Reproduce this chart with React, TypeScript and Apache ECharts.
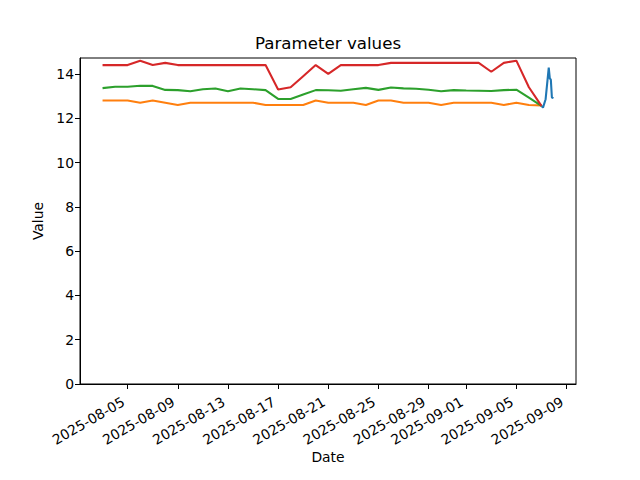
import React, { useEffect, useRef } from "react";
import * as echarts from "echarts";

const DAY = 86400000;
const HOUR = 3600000;
const startDay = Date.UTC(2025, 7, 3);
const dayCount = 36; // 2025-08-03 .. 2025-09-07
const dailyDates: number[] = Array.from({ length: dayCount }, (_, i) => startDay + i * DAY);

const redValues = [
  14.4, 14.4, 14.4, 14.6, 14.4, 14.5, 14.4, 14.4, 14.4, 14.4, 14.4, 14.4, 14.4, 14.4,
  13.3, 13.4, 13.9, 14.4, 14.0, 14.4, 14.4, 14.4, 14.4, 14.5, 14.5, 14.5, 14.5, 14.5,
  14.5, 14.5, 14.5, 14.1, 14.5, 14.6, 13.4, 12.56,
];
const greenValues = [
  13.36, 13.42, 13.42, 13.47, 13.46, 13.28, 13.27, 13.22, 13.31, 13.34, 13.22, 13.34,
  13.31, 13.27, 12.87, 12.87, 13.07, 13.27, 13.26, 13.24, 13.31, 13.37, 13.28, 13.39,
  13.35, 13.33, 13.29, 13.22, 13.27, 13.25, 13.24, 13.23, 13.27, 13.29, 12.93, 12.56,
];
const orangeValues = [
  12.8, 12.8, 12.8, 12.7, 12.8, 12.7, 12.6, 12.7, 12.7, 12.7, 12.7, 12.7, 12.7, 12.6,
  12.6, 12.6, 12.6, 12.8, 12.7, 12.7, 12.7, 12.6, 12.8, 12.8, 12.7, 12.7, 12.7, 12.6,
  12.7, 12.7, 12.7, 12.7, 12.6, 12.7, 12.6, 12.58,
];

const blueDay = Date.UTC(2025, 8, 7);
const blueHours = [0, 3, 8, 14, 16, 18, 20, 23];
const blueValues = [12.56, 12.48, 12.86, 14.29, 13.8, 13.74, 12.94, 12.91];

const xTickLabels = [
  "2025-08-05", "2025-08-09", "2025-08-13", "2025-08-17", "2025-08-21",
  "2025-08-25", "2025-08-29", "2025-09-01", "2025-09-05", "2025-09-09",
];
const yTicks = [0, 2, 4, 6, 8, 10, 12, 14];

const colors = { blue: "#1f77b4", orange: "#ff7f0e", green: "#2ca02c", red: "#d62728" };

function parseDate(s: string): number {
  const [y, m, d] = s.split("-").map(Number);
  return Date.UTC(y, m - 1, d);
}
function fmtDate(v: number): string {
  const d = new Date(v);
  const p = (n: number) => String(n).padStart(2, "0");
  return `${d.getUTCFullYear()}-${p(d.getUTCMonth() + 1)}-${p(d.getUTCDate())}`;
}

export default function App() {
  const ref = useRef<HTMLDivElement>(null);
  useEffect(() => {
    if (!ref.current) return;
    const chart = echarts.init(ref.current, null, { renderer: "svg" });
    const dataStart = dailyDates[0];
    const dataEnd = blueDay + blueHours[blueHours.length - 1] * HOUR;
    const pad = (dataEnd - dataStart) * 0.05;
    const xTicks = xTickLabels.map(parseDate);
    const font = "DejaVu Sans";
    const lineW = 2.08;
    const mk = (vals: number[]) => vals.map((v, i) => [dailyDates[i], v]);
    chart.setOption({
      animation: false,
      backgroundColor: "#fff",
      grid: {
        left: 80, right: 64, top: 58, bottom: 96,
        show: true, borderColor: "#000", borderWidth: 1, backgroundColor: "transparent",
      },
      xAxis: {
        type: "value",
        min: dataStart - pad,
        max: dataEnd + pad,
        splitLine: { show: false },
        axisLine: { onZero: false, lineStyle: { color: "#000", width: 1 } },
        axisTick: { customValues: xTicks, length: 5, lineStyle: { color: "#000", width: 1 } },
        axisLabel: {
          customValues: xTicks,
          rotate: 30,
          formatter: (v: number) => fmtDate(v),
          fontSize: 13.9,
          fontFamily: font,
          color: "#000",
          margin: 14,
          padding: [0, 5, 0, 0],
        },
      },
      yAxis: {
        type: "value",
        min: 0,
        max: 14.72,
        splitLine: { show: false },
        axisLine: { show: true, onZero: false, lineStyle: { color: "#000", width: 1 } },
        axisTick: { show: true, customValues: yTicks, length: 5, lineStyle: { color: "#000", width: 1 } },
        axisLabel: {
          customValues: yTicks,
          fontSize: 13.9,
          fontFamily: font,
          color: "#000",
          margin: 6,
        },
      },
      graphic: [
        {
          type: "text", x: 328, y: 43,
          style: { text: "Parameter values", font: `16.67px ${font}`, fill: "#000", textAlign: "center", textVerticalAlign: "middle" },
        },
        {
          type: "text", x: 328, y: 457,
          style: { text: "Date", font: `13.9px ${font}`, fill: "#000", textAlign: "center", textVerticalAlign: "middle" },
        },
        {
          type: "text", x: 38, y: 221, rotation: Math.PI / 2,
          style: { text: "Value", font: `13.9px ${font}`, fill: "#000", textAlign: "center", textVerticalAlign: "middle" },
        },
      ],
      series: [
        {
          type: "line", symbol: "none",
          data: blueHours.map((h, i) => [blueDay + h * HOUR, blueValues[i]]),
          lineStyle: { color: colors.blue, width: lineW }, itemStyle: { color: colors.blue },
        },
        {
          type: "line", symbol: "none", data: mk(orangeValues),
          lineStyle: { color: colors.orange, width: lineW }, itemStyle: { color: colors.orange },
        },
        {
          type: "line", symbol: "none", data: mk(greenValues),
          lineStyle: { color: colors.green, width: lineW }, itemStyle: { color: colors.green },
        },
        {
          type: "line", symbol: "none", data: mk(redValues),
          lineStyle: { color: colors.red, width: lineW }, itemStyle: { color: colors.red },
        },
      ],
    });
    return () => chart.dispose();
  }, []);
  return (
    <div
      ref={ref}
      style={{ position: "absolute", left: 0, top: 0, width: 640, height: 480 }}
    />
  );
}
